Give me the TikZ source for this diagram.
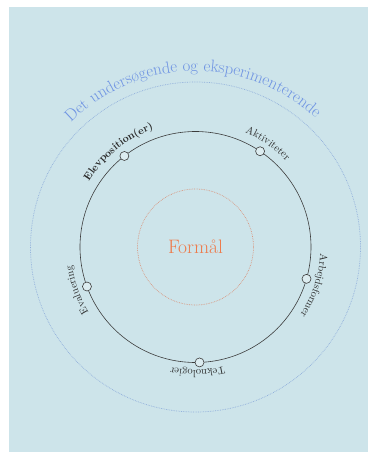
\documentclass[tikz,border=0pt]{standalone}
\usepackage{fontspec}
\usetikzlibrary{decorations.text}
\definecolor{bg}{HTML}{CDE4EA}
\definecolor{outerc}{HTML}{8FAEDB}
\definecolor{innerc}{HTML}{D9957E}
\definecolor{midc}{HTML}{3C3C3C}
\definecolor{titlec}{HTML}{6F94E3}
\definecolor{formc}{HTML}{EE7A4A}
\definecolor{labelc}{HTML}{2A2A2A}
\newcommand\lblfont{\fontsize{10.5}{12}\selectfont}
\newcommand\ttlfont{\fontsize{16.8}{19}\selectfont}
\tikzset{
  dotring/.style={densely dotted, line width=0.7pt},
  station/.style={circle, draw=midc, fill=bg!70!white, line width=0.6pt, minimum size=9pt, inner sep=0pt},
  arclabel/.style={decorate, decoration={text along path, text align=center, text color=labelc}},
}
\begin{document}
\begin{tikzpicture}[x=1pt,y=1pt]
\useasboundingbox (-195.5pt,-205pt) rectangle (172.5pt,247pt);
\fill[white] (-195.5pt,-205pt) rectangle (172.5pt,247pt);
\fill[bg] (-186.5pt,-205pt) rectangle (172.5pt,240pt);
% rings
\draw[dotring, outerc] (0,0) circle[radius=165pt];
\draw[dotring, innerc] (0,0) circle[radius=58pt];
\draw[midc, line width=0.6pt] (0,0) circle[radius=115.5pt];
% centre
\node[text=formc, font=\fontsize{19.5}{22}\selectfont] (formaal) at (0,0) {Formål};
% stations
\node[station] (elev) at (128:115.5pt) {};
\node[station] (akt) at (56:115.5pt) {};
\node[station] (arb) at (-16:115.5pt) {};
\node[station] (tek) at (-88:115.5pt) {};
\node[station] (eval) at (200:115.5pt) {};
% labels
\path[arclabel, decoration={text={|\lblfont\bfseries|Elevposition(er)}}]
  (165:125pt) arc[start angle=165, end angle=93, radius=125pt];
\path[arclabel, decoration={text={|\lblfont|Aktiviteter}}]
  (85:125pt) arc[start angle=85, end angle=25, radius=125pt];
\path[arclabel, decoration={text={|\lblfont|Arbejdsformer}}]
  (12:125pt) arc[start angle=12, end angle=-48, radius=125pt];
\path[arclabel, decoration={text={|\lblfont|Teknologier}}]
  (-59:123pt) arc[start angle=-59, end angle=-119, radius=123pt];
\path[arclabel, decoration={text={|\lblfont|Evaluering}}]
  (230:125pt) arc[start angle=230, end angle=170, radius=125pt];
% title
\path[decorate, decoration={text along path, text align=center, text color=titlec, text={|\ttlfont|Det undersøgende og eksperimenterende}}]
  (181:176pt) arc[start angle=181, end angle=1, radius=176pt];
\end{tikzpicture}
\end{document}
